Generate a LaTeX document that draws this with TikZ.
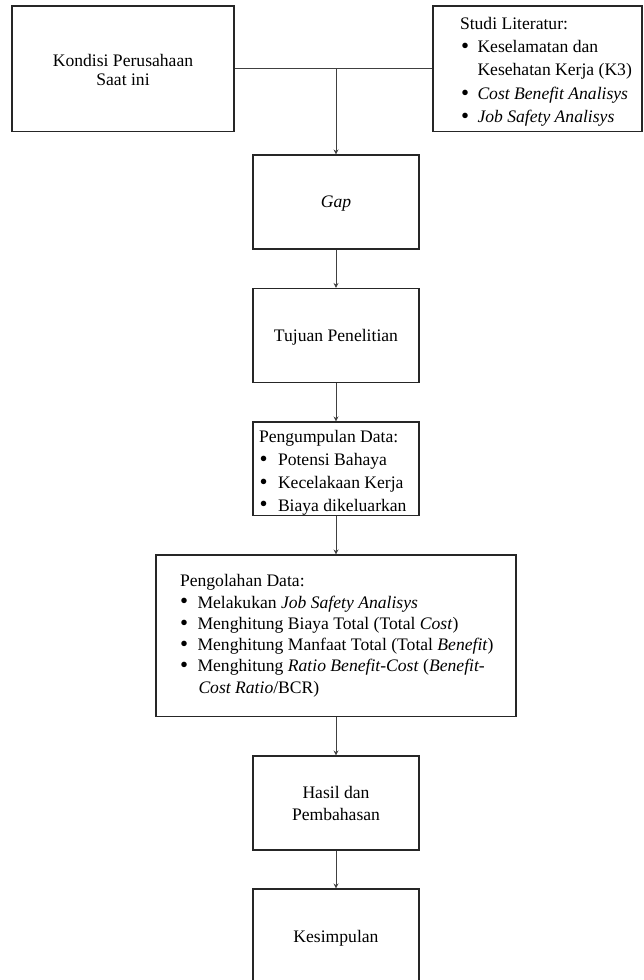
\documentclass[tikz,border=0pt]{standalone}
\usepackage{fontspec}
\setmainfont{Liberation Serif}
\usetikzlibrary{arrows.meta}
\newcommand{\bul}{\raisebox{-0.9pt}{\scalebox{1.3}{\textbullet}}}
\newcommand{\bitem}[3]{\hspace*{#1}\makebox[#2][l]{\bul}#3}
\newcommand{\rows}[2]{\raisebox{#1}[\height][\depth]{\begin{tabular}{@{}c@{}}#2\end{tabular}}}
\newcommand{\lrows}[4]{\raisebox{#1}[\height][\depth]{\makebox[#2][l]{\hspace*{#3}\begin{tabular}{@{}l@{}}#4\end{tabular}}}}
\tikzset{
  box/.style={draw=black!85, line width=1.1pt, inner sep=0pt,
              font=\fontsize{17.6}{18.7}\selectfont},
  cbox/.style={box, minimum width=166pt, minimum height=94pt},
  link/.style={draw=black!75, line width=0.75pt},
  arr/.style={link, -{Stealth[length=5pt,width=5pt]}}
}
\begin{document}
\begin{tikzpicture}[x=1pt,y=-1pt]
\useasboundingbox (0,0) rectangle (643,980);
\clip (0,0) rectangle (643,980);
% top row
\node[box, minimum width=222pt, minimum height=125.5pt] (kondisi) at (123,68.75)
  {\rows{-3.5pt}{Kondisi Perusahaan\\Saat ini}};
\node[box, minimum width=209pt, minimum height=125.5pt,
      font=\fontsize{17.6}{23.3}\selectfont] (studi) at (537.5,68.75)
  {\lrows{-2.5pt}{209pt}{27pt}{Studi Literatur:\\
   \bitem{1pt}{16.5pt}{Keselamatan dan}\\
   \hspace*{17.5pt}Kesehatan Kerja (K3)\\
   \bitem{1pt}{16.5pt}{\textit{Cost Benefit Analisys}}\\
   \bitem{1pt}{16.5pt}{\textit{Job Safety Analisys}}}};
% main column
\node[cbox] (gap) at (336,202) {\rows{-1.5pt}{\textit{Gap}}};
\node[cbox] (tujuan) at (336,335.5) {\rows{-2pt}{Tujuan Penelitian}};
\node[box, minimum width=166pt, minimum height=93.5pt,
      font=\fontsize{17.6}{22.8}\selectfont] (kumpul) at (336,468.75)
  {\lrows{-3.5pt}{166pt}{6pt}{Pengumpulan Data:\\
   \bitem{0.5pt}{18.5pt}{Potensi Bahaya}\\
   \bitem{0.5pt}{18.5pt}{Kecelakaan Kerja}\\
   \bitem{0.5pt}{18.5pt}{Biaya dikeluarkan}}};
\node[box, minimum width=360pt, minimum height=161.5pt,
      font=\fontsize{17.6}{21.3}\selectfont] (olah) at (336,635.75)
  {\lrows{0pt}{360pt}{24pt}{Pengolahan Data:\\
   \bitem{0pt}{17.5pt}{Melakukan \textit{Job Safety Analisys}}\\
   \bitem{0pt}{17.5pt}{Menghitung Biaya Total (Total \textit{Cost})}\\
   \bitem{0pt}{17.5pt}{Menghitung Manfaat Total (Total \textit{Benefit})}\\
   \bitem{0pt}{17.5pt}{Menghitung \textit{Ratio Benefit-Cost} (\textit{Benefit-}}\\
   \hspace*{18.5pt}\textit{Cost Ratio}/BCR)}};
\node[cbox, font=\fontsize{17.6}{21.7}\selectfont] (hasil) at (336,803)
  {\rows{-2pt}{Hasil dan\\Pembahasan}};
\node[cbox] (simpul) at (336,936) {\rows{-3pt}{Kesimpulan}};
% connectors
\draw[link] (kondisi.east) -- (studi.west);
\coordinate (j) at (kondisi.east -| gap.north);
\draw[arr] (j) -- (gap.north);
\draw[arr] (gap.south) -- (tujuan.north);
\draw[arr] (tujuan.south) -- (kumpul.north);
\draw[arr] (kumpul.south) -- (olah.north);
\draw[arr] (olah.south) -- (hasil.north);
\draw[arr] (hasil.south) -- (simpul.north);
\end{tikzpicture}
\end{document}
